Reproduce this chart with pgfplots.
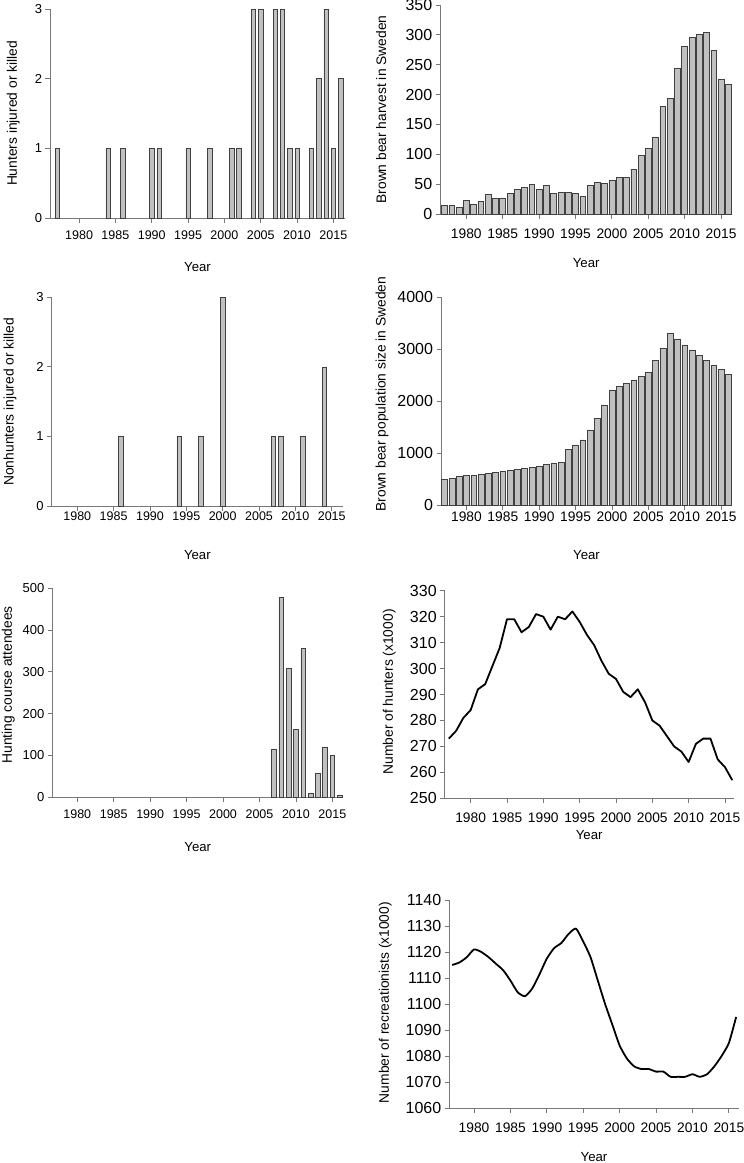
\documentclass[border=0pt]{standalone}
\usepackage{fontspec}
\setmainfont{Liberation Sans}
\usepackage{pgfplots}
\pgfplotsset{compat=1.18}
\definecolor{barfill}{HTML}{C0C0C0}
\definecolor{baredge}{HTML}{404040}
\definecolor{axgray}{HTML}{787878}
\newcommand{\fs}[1]{\fontsize{#1bp}{#1bp}\selectfont}
\pgfplotsset{
  panel/.style={
    scale only axis, anchor=south west,
    axis x line*=bottom, axis y line*=left,
    axis line style={axgray, line width=0.8bp, -},
    every tick/.style={axgray, line width=0.8bp},
    tick align=outside, major tick length=4.5bp,
    xtick={1980,1985,...,2015},
    /pgf/number format/assume math mode=true,
    /pgf/number format/1000 sep={},
    xlabel={Year}, clip=false,
  },
  leftcol/.style={xticklabel style={font=\fs{12.5}}, yticklabel style={font=\fs{13}}},
  rightcol/.style={xticklabel style={font=\fs{13.8}}, yticklabel style={font=\fs{16}}},
  xlab/.style={xlabel style={at={([yshift=-#1bp]axis description cs:0.5,0)}, anchor=center, font=\fs{13.2}}},
  ylab/.style 2 args={ylabel style={at={([xshift=-#1bp]axis description cs:0,#2)}, anchor=center, font=\fs{13.8}}},
  bars/.style={ybar, bar width=#1, fill=barfill, draw=baredge, line width=0.6bp},
}
\begin{document}
\begin{tikzpicture}
\path[use as bounding box] (0,0) rectangle (744bp,-1163bp);

% Panel 1: hunters injured or killed
\begin{axis}[panel, leftcol, at={(50bp,-218bp)}, width=295bp, height=209bp,
  xmin=1976.0, xmax=2016.6, ymin=0, ymax=3, ytick={0,1,2,3},
  xticklabel style={yshift=-4.8bp}, xlab=48.7, ylab={36.7}{0.5},
  ylabel={Hunters injured or killed}]
\addplot[bars=0.6] coordinates {(1977,1) (1984,1) (1986,1) (1990,1) (1991,1) (1995,1) (1998,1) (2001,1) (2002,1) (2004,3) (2005,3) (2007,3) (2008,3) (2009,1) (2010,1) (2012,1) (2013,2) (2014,3) (2015,1) (2016,2)};
\end{axis}

% Panel 2: brown bear harvest
\begin{axis}[panel, rightcol, at={(440.3bp,-214bp)}, width=291.7bp, height=209bp,
  xmin=1976.43, xmax=2016.5, ymin=0, ymax=350, ytick={0,50,...,350},
  xticklabel style={yshift=-6.4bp}, xlab=49.3, ylab={59}{0.5},
  ylabel={Brown bear harvest in Sweden}]
\addplot[bars=0.8] coordinates {(1977,15) (1978,15) (1979,11) (1980,23) (1981,16) (1982,21) (1983,33) (1984,26) (1985,27) (1986,35) (1987,41) (1988,45) (1989,50) (1990,41) (1991,48) (1992,35) (1993,36) (1994,36) (1995,35) (1996,30) (1997,48) (1998,53) (1999,51) (2000,56) (2001,61) (2002,61) (2003,75) (2004,98) (2005,110) (2006,129) (2007,180) (2008,194) (2009,244) (2010,281) (2011,296) (2012,301) (2013,304) (2014,274) (2015,225) (2016,217)};
\end{axis}

% Panel 3: nonhunters injured or killed
\begin{axis}[panel, leftcol, at={(51.7bp,-506bp)}, width=291.3bp, height=208.7bp,
  xmin=1976.48, xmax=2016.55, ymin=0, ymax=3, ytick={0,1,2,3},
  xticklabel style={yshift=2.2bp}, xlab=49, ylab={41.7}{0.5},
  ylabel={Nonhunters injured or killed}]
\addplot[bars=0.6] coordinates {(1986,1) (1994,1) (1997,1) (2000,3) (2007,1) (2008,1) (2011,1) (2014,2)};
\end{axis}

% Panel 4: brown bear population
\begin{axis}[panel, rightcol, at={(441bp,-505bp)}, width=291bp, height=207.7bp,
  xmin=1976.5, xmax=2016.5, ymin=0, ymax=4000, ytick={0,1000,...,4000},
  xticklabel style={yshift=1.2bp}, xlab=50, ylab={59}{0.534},
  ylabel={Brown bear population size in Sweden}]
\addplot[bars=0.8] coordinates {(1977,500) (1978,520) (1979,545) (1980,565) (1981,571) (1982,590) (1983,610) (1984,630) (1985,648) (1986,668) (1987,687) (1988,706) (1989,725) (1990,745) (1991,777) (1992,803) (1993,828) (1994,1066) (1995,1156) (1996,1252) (1997,1445) (1998,1663) (1999,1926) (2000,2215) (2001,2279) (2002,2344) (2003,2408) (2004,2472) (2005,2555) (2006,2780) (2007,3024) (2008,3307) (2009,3198) (2010,3082) (2011,2986) (2012,2883) (2013,2786) (2014,2690) (2015,2607) (2016,2517)};
\end{axis}

% Panel 5: hunting course attendees
\begin{axis}[panel, leftcol, at={(52.3bp,-797bp)}, width=291bp, height=208.7bp,
  xmin=1976.57, xmax=2016.5, ymin=0, ymax=500, ytick={0,100,...,500},
  xticklabel style={yshift=-5.1bp}, xlab=49.7, ylab={44}{0.537},
  ylabel={Hunting course attendees}]
\addplot[bars=0.65] coordinates {(2007,115) (2008,478) (2009,308) (2010,162) (2011,356) (2012,9) (2013,57) (2014,120) (2015,100) (2016,5)};
\end{axis}

% Panel 6: number of hunters
\begin{axis}[panel, rightcol, at={(444.7bp,-798.3bp)}, width=289bp, height=207.6bp,
  xmin=1976.43, xmax=2016.2, ymin=250, ymax=330, ytick={250,260,...,330},
  xticklabel style={yshift=-6.1bp}, xlab=37, ylab={55.4}{0.513},
  ylabel={Number of hunters (x1000)}]
\addplot[black, line width=1.8bp, line join=round] coordinates {(1977,273) (1978,276) (1979,281) (1980,284) (1981,292) (1982,294) (1983,301) (1984,308) (1985,319) (1986,319) (1987,314) (1988,316) (1989,321) (1990,320) (1991,315) (1992,320) (1993,319) (1994,322) (1995,318) (1996,313) (1997,309) (1998,303) (1999,298) (2000,296) (2001,291) (2002,289) (2003,292) (2004,287) (2005,280) (2006,278) (2007,274) (2008,270) (2009,268) (2010,264) (2011,271) (2012,273) (2013,273) (2014,265) (2015,262) (2016,257)};
\end{axis}

% Panel 7: number of recreationists
\begin{axis}[panel, rightcol, at={(449.3bp,-1108bp)}, width=289.4bp, height=208bp,
  xmin=1976.6, xmax=2016.35, ymin=1060, ymax=1140, ytick={1060,1070,...,1140},
  xticklabel style={yshift=-6.8bp}, xlab=48.7, ylab={64}{0.507},
  ylabel={Number of recreationists (x1000)}]
\addplot[black, line width=1.8bp, line join=round, smooth, tension=0.35] coordinates {(1977,1115) (1978,1116) (1979,1118) (1980,1121) (1981,1120) (1982,1118) (1983,1115.5) (1984,1113) (1985,1109) (1986,1104.5) (1987,1103) (1988,1106) (1989,1111.5) (1990,1117.5) (1991,1121.5) (1992,1123.5) (1993,1127) (1994,1129) (1995,1124) (1996,1118) (1997,1109) (1998,1100) (1999,1092) (2000,1084) (2001,1079) (2002,1076) (2003,1075) (2004,1075) (2005,1074) (2006,1074) (2007,1072) (2008,1072) (2009,1072) (2010,1073) (2011,1072) (2012,1073) (2013,1076) (2014,1080) (2015,1085) (2016,1095)};
\end{axis}
\end{tikzpicture}
\end{document}
